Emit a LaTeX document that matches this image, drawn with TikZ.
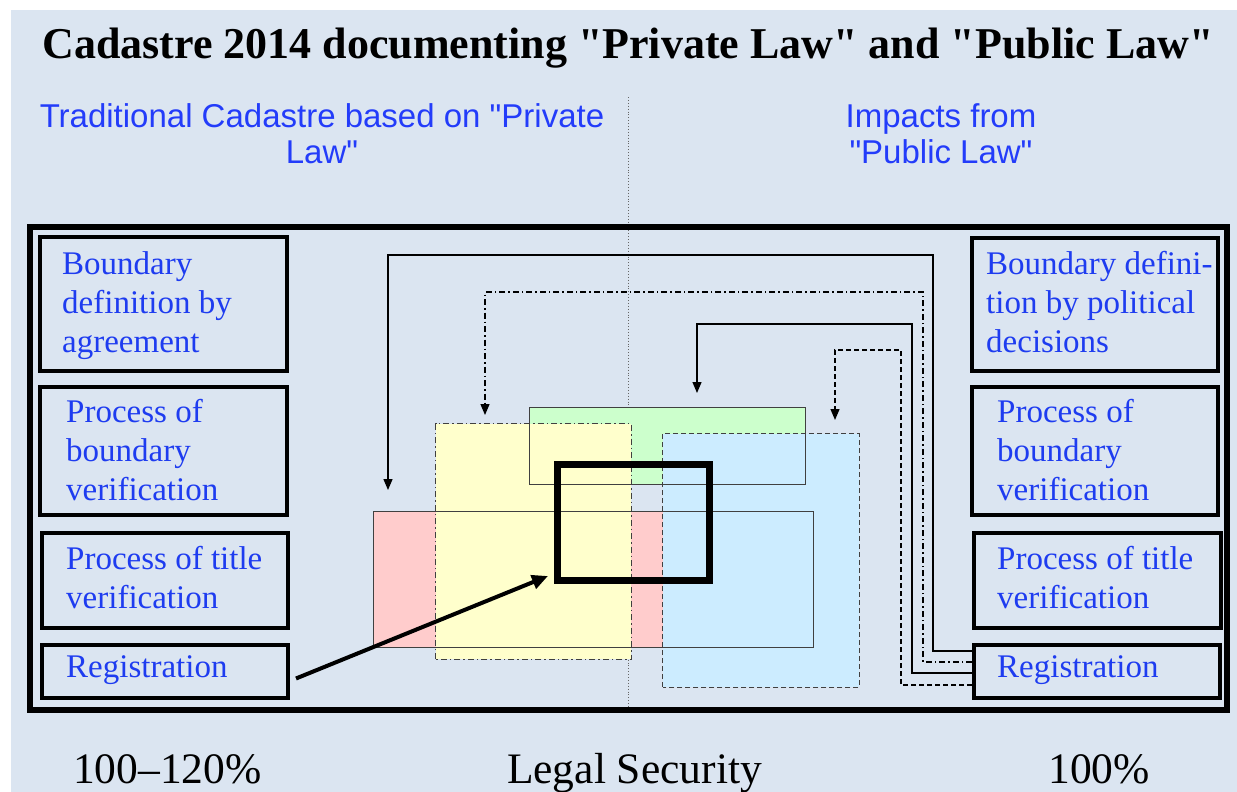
\documentclass[tikz,border=0pt]{standalone}
\usepackage{fontspec}
\setmainfont{Liberation Serif}[Ligatures=TeXOff]
\setsansfont{Liberation Sans}[Ligatures=TeXOff]
\usetikzlibrary{arrows.meta}
\definecolor{bg}{RGB}{219,229,241}
\definecolor{txtblue}{RGB}{30,60,240}
\definecolor{hdrblue}{RGB}{35,60,250}
\definecolor{redfill}{RGB}{255,204,204}
\definecolor{yelfill}{RGB}{255,255,204}
\definecolor{grnfill}{RGB}{204,255,204}
\definecolor{blufill}{RGB}{204,236,255}
\newcommand{\qq}{{\char34}}
\begin{document}
\begin{tikzpicture}[x=1pt,y=-1pt,
  box/.style={draw=black,line width=4pt,inner sep=0pt},
  boxtxt/.style={anchor=base west,align=left,inner sep=0pt,text=txtblue,font=\fontsize{33}{39}\selectfont},
  hdr/.style={anchor=base,align=center,inner sep=0pt,text=hdrblue,font=\sffamily\fontsize{33}{36}\selectfont},
  bottxt/.style={inner sep=0pt,font=\fontsize{43.5}{48}\selectfont},
  conn/.style={line width=1.3pt,-{Triangle[width=9pt,length=11pt]}},
  area/.style={inner sep=0pt,draw=none},
  areaedge/.style={line width=0.9pt,draw=black!75}]
\useasboundingbox (0,0) rectangle (1237,792);
\fill[white] (0,0) rectangle (1237,792);
\fill[bg] (11,10) rectangle (1237,792);

% title and headers
\node[anchor=base,inner sep=0pt,font=\bfseries\fontsize{44}{48}\selectfont] (title) at (628,59) {Cadastre 2014 documenting \qq Private Law\qq{} and \qq Public Law\qq};
\node[hdr] (hl) at (322,163) {Traditional Cadastre based on \qq Private\\Law\qq};
\node[hdr] (hr) at (941,163) {Impacts from\\\qq Public Law\qq};

% dotted divider
\coordinate (dtop) at (628,97);
\coordinate (dbot) at (628,710);
\draw[black!60,dotted,line width=0.9pt] (dtop) -- (dbot);

% outer frame
\node[draw=black,line width=6pt,inner sep=0pt,minimum width=1197,minimum height=483] (frame) at (628.5,468.5) {};

% left boxes
\node[box,minimum width=247,minimum height=134] (l1) at (163.5,304) {};
\node[box,minimum width=247,minimum height=128] (l2) at (163.5,451) {};
\node[box,minimum width=246,minimum height=95] (l3) at (165,580.5) {};
\node[box,minimum width=246,minimum height=53] (lreg) at (165,671.5) {};
\node[boxtxt] (l1t) at (62,352) {Boundary\\definition by\\agreement};
\node[boxtxt] (l2t) at (66,500) {Process of\\boundary\\verification};
\node[boxtxt] (l3t) at (66,608) {Process of title\\verification};
\node[boxtxt] (l4t) at (66,677) {Registration};

% right boxes
\node[box,minimum width=246,minimum height=133] (r1) at (1095,304.5) {};
\node[box,minimum width=246,minimum height=128] (r2) at (1095,451) {};
\node[box,minimum width=247,minimum height=95] (r3) at (1097.5,580.5) {};
\node[box,minimum width=246,minimum height=53] (rreg) at (1097,671.5) {};
\node[boxtxt] (r1t) at (986,352) {Boundary defini-\\tion by political\\decisions};
\node[boxtxt] (r2t) at (997,500) {Process of\\boundary\\verification};
\node[boxtxt] (r3t) at (997,608) {Process of title\\verification};
\node[boxtxt] (r4t) at (997,677) {Registration};

% coloured areas (fills)
\node[area,fill=redfill,minimum width=439,minimum height=135] (redr) at (593.5,579.5) {};
\node[area,fill=grnfill,minimum width=275,minimum height=76] (grnr) at (667.5,446) {};
\node[area,fill=yelfill,minimum width=195,minimum height=235] (yelr) at (533.5,541.5) {};
\node[area,fill=blufill,minimum width=196,minimum height=253] (blur) at (761,560.5) {};
% edges
\draw[areaedge] (redr.south west) rectangle (redr.north east);
\draw[areaedge] (grnr.south west) rectangle (grnr.north east);
\draw[areaedge,dash pattern=on 6pt off 3pt on 1.5pt off 3pt] (yelr.south west) rectangle (yelr.north east);
\draw[areaedge,dash pattern=on 5pt off 3pt] (blur.south west) rectangle (blur.north east);

% thick square
\node[draw=black,line width=7pt,inner sep=0pt,minimum width=152,minimum height=116] (sq) at (633.5,522.5) {};

% connectors from right registration
\coordinate (t1) at (388,490);
\coordinate (t2) at (485,415);
\coordinate (t3) at (697,393);
\coordinate (t4) at (835,420);
\draw[conn] (rreg.west |- 0,651) -| (933,255) -| (t1);
\draw[conn,dash pattern=on 6pt off 3pt on 1.5pt off 3pt] (rreg.west |- 0,662) -| (923,292) -| (t2);
\draw[conn] (rreg.west |- 0,673) -| (912,324) -| (t3);
\draw[conn,dash pattern=on 5pt off 3pt] (rreg.west |- 0,685) -| (901,350) -| (t4);

% thick arrow from left registration
\draw[line width=4pt,-{Triangle[width=14pt,length=16pt]}] ([shift={(6,7)}]lreg.east) -- ([shift={(-6,-8)}]sq.south west);

% bottom labels
\node[bottxt,anchor=base west] (pl) at (73,783) {100–120\%};
\node[bottxt,anchor=base] (ls) at (634.5,783) {Legal Security};
\node[bottxt,anchor=base] (pr) at (1099,783) {100\%};
\end{tikzpicture}
\end{document}
